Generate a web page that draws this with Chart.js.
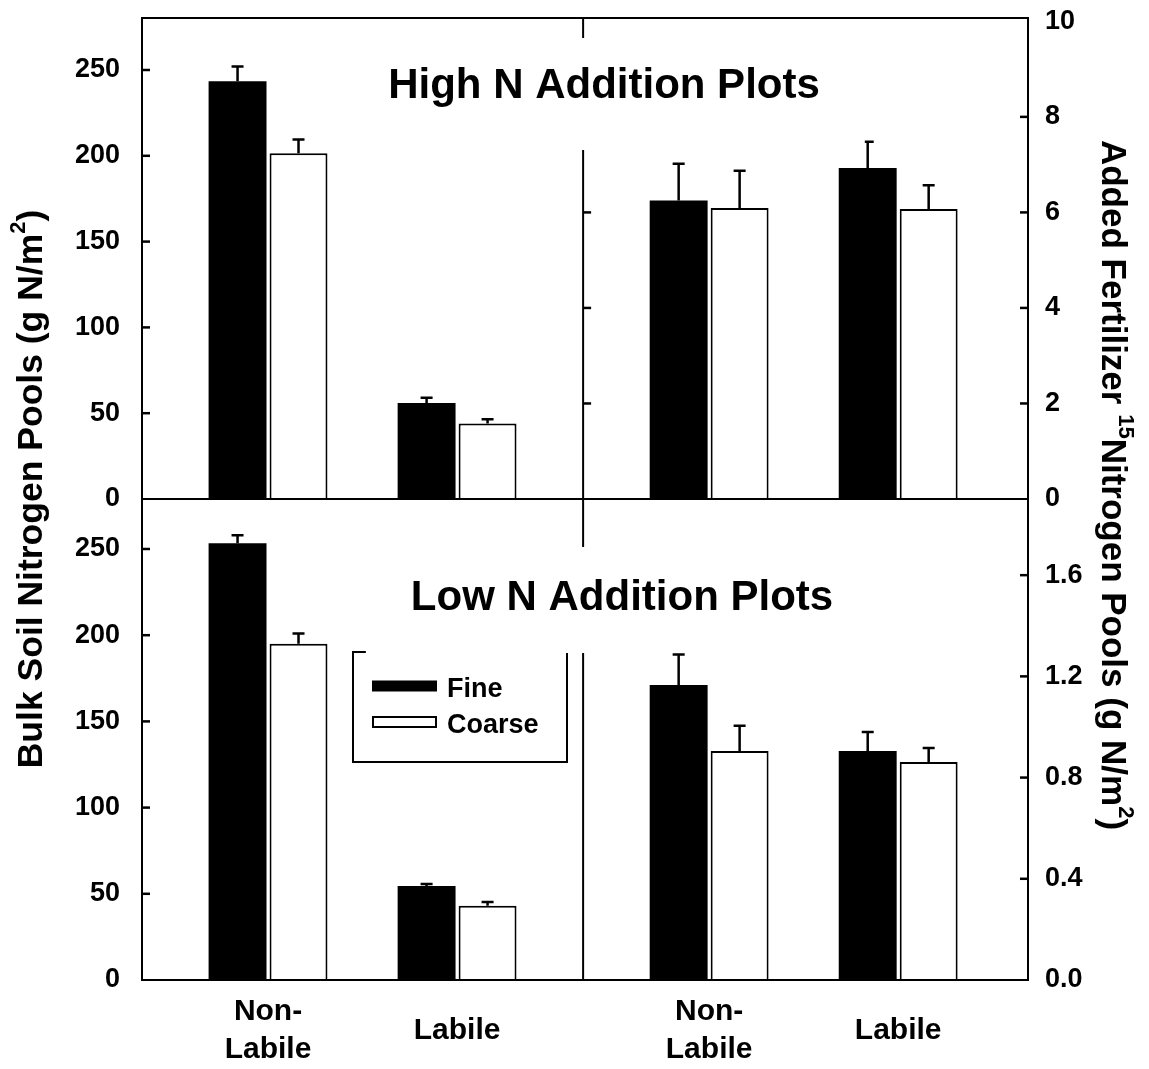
<!DOCTYPE html>
<html>
<head>
<meta charset="utf-8">
<script src="https://cdn.jsdelivr.net/npm/chart.js@4.4.1/dist/chart.umd.min.js"></script>
<style>
  html, body { margin: 0; padding: 0; background: #fff; }
  #wrap { width: 1149px; height: 1069px; }
</style>
</head>
<body>
<div id="wrap"><canvas id="c" width="1149" height="1069"></canvas></div>
<script>
// ---- data ----
const categories = ['Non-Labile', 'Labile'];

// High N addition plots: bulk soil N (g N/m2) and added fertilizer 15N (g N/m2)
const highBulkFine = [243.5, 56];
const highBulkFineErr = [8.5, 3];
const highBulkCoarse = [201.5, 44];
const highBulkCoarseErr = [8, 2.5];
const high15NFine = [6.25, 6.93];
const high15NFineErr = [0.77, 0.55];
const high15NCoarse = [6.09, 6.07];
const high15NCoarseErr = [0.78, 0.5];

// Low N addition plots
const lowBulkFine = [253.3, 54.5];
const lowBulkFineErr = [4.7, 1.2];
const lowBulkCoarse = [195, 43];
const lowBulkCoarseErr = [6, 2.3];
const low15NFine = [1.166, 0.905];
const low15NFineErr = [0.12, 0.075];
const low15NCoarse = [0.905, 0.862];
const low15NCoarseErr = [0.10, 0.055];

// tick labels
const bulkTicks = [0, 50, 100, 150, 200, 250];
const high15NTicks = [0, 2, 4, 6, 8, 10];
const low15NTicks = [0, 0.4, 0.8, 1.2, 1.6];

// ---- layout of the shared x axis: two halves, each with 7 slots ----
const SLOTS_PER_HALF = 7;
const CAT_SLOTS = [2, 5];
const X_MAX = 14.06;
const xTickValues = [0, 1].flatMap(h => CAT_SLOTS.map(s => h * SLOTS_PER_HALF + s));

const FONT = '"Liberation Sans", Arial, Helvetica, sans-serif';
Chart.defaults.font.family = FONT;
Chart.defaults.color = '#000';

function series(label, values, errors, half, yAxisID, kind) {
  return {
    label: label,
    stack: kind,
    xAxisID: 'x',
    yAxisID: yAxisID,
    data: values.map((v, i) => ({ x: half * SLOTS_PER_HALF + CAT_SLOTS[i], y: v })),
    errors: errors,
    backgroundColor: kind === 'fine' ? '#000' : '#fff',
    borderColor: '#000',
    borderWidth: kind === 'fine' ? 0 : 2,
    categoryPercentage: 0.645,
    barPercentage: 0.95
  };
}

const datasets = [
  series('Fine', highBulkFine, highBulkFineErr, 0, 'yTL', 'fine'),
  series('Coarse', highBulkCoarse, highBulkCoarseErr, 0, 'yTL', 'coarse'),
  series('Fine', high15NFine, high15NFineErr, 1, 'yTR', 'fine'),
  series('Coarse', high15NCoarse, high15NCoarseErr, 1, 'yTR', 'coarse'),
  series('Fine', lowBulkFine, lowBulkFineErr, 0, 'yBL', 'fine'),
  series('Coarse', lowBulkCoarse, lowBulkCoarseErr, 0, 'yBL', 'coarse'),
  series('Fine', low15NFine, low15NFineErr, 1, 'yBR', 'fine'),
  series('Coarse', low15NCoarse, low15NCoarseErr, 1, 'yBR', 'coarse')
];

function yAxis(position, stack, weight, max, tickValues, fmt, width, pad) {
  return {
    type: 'linear',
    position: position,
    stack: stack,
    stackWeight: 1,
    weight: weight,
    stacked: false,
    min: 0,
    max: max,
    grid: { display: false, drawTicks: false, tickLength: 0 },
    border: { display: false },
    afterBuildTicks: s => { s.ticks = tickValues.map(v => ({ value: v })); },
    afterFit: s => { s.width = width; s.paddingTop = 0; s.paddingBottom = 0; },
    ticks: {
      padding: pad,
      font: { size: 27, weight: 'bold' },
      color: '#000',
      callback: v => fmt(v)
    }
  };
}

// rich text with superscripts, rotated about its centre
function drawRich(ctx, parts, cx, cy, angle, size) {
  const base = `bold ${size}px ${FONT}`;
  const sup = `bold ${Math.round(size * 0.62)}px ${FONT}`;
  ctx.save();
  ctx.translate(cx, cy);
  ctx.rotate(angle);
  ctx.fillStyle = '#000';
  ctx.textBaseline = 'middle';
  ctx.textAlign = 'left';
  let total = 0;
  parts.forEach(p => { ctx.font = p.sup ? sup : base; p.w = ctx.measureText(p.t).width; total += p.w; });
  let x = -total / 2;
  parts.forEach(p => {
    ctx.font = p.sup ? sup : base;
    ctx.fillText(p.t, x, p.sup ? -size * 0.36 : 0);
    x += p.w;
  });
  ctx.restore();
}

const panelTitles = [
  { text: 'High N Addition Plots', cx: 604, cy: 86, above: 48, below: 64 },
  { text: 'Low N Addition Plots', cx: 622, cy: 598, above: 51, below: 55 }
];
const TITLE_FONT = `bold 42px ${FONT}`;
const legendBox = { left: 353, top: 652, right: 567, bottom: 762 };

const decorations = {
  id: 'decorations',
  afterDatasetsDraw(chart) {
    const ctx = chart.ctx;
    const sc = chart.scales;
    // error bars (upper half only)
    ctx.save();
    ctx.strokeStyle = '#000';
    ctx.lineWidth = 2.5;
    chart.data.datasets.forEach((d, di) => {
      const meta = chart.getDatasetMeta(di);
      const ys = sc[d.yAxisID];
      meta.data.forEach((bar, i) => {
        const top = ys.getPixelForValue(d.data[i].y + d.errors[i]);
        ctx.beginPath();
        ctx.moveTo(bar.x, bar.y);
        ctx.lineTo(bar.x, top);
        ctx.moveTo(bar.x - 6, top);
        ctx.lineTo(bar.x + 6, top);
        ctx.stroke();
      });
    });
    ctx.restore();
  },
  afterDraw(chart) {
    const ctx = chart.ctx;
    const a = chart.chartArea;
    const sc = chart.scales;
    const mid = sc.yTL.bottom;
    const divX = sc.x.getPixelForValue(SLOTS_PER_HALF);

    ctx.save();
    ctx.strokeStyle = '#000';
    ctx.lineWidth = 2;
    // divider between the bulk soil and 15N halves
    ctx.beginPath();
    ctx.moveTo(divX, a.top);
    ctx.lineTo(divX, a.bottom);
    ctx.stroke();

    // inward tick marks
    ctx.lineWidth = 2.5;
    const tickLen = 8;
    const marks = (scale, x0, dir) => {
      scale.ticks.forEach(t => {
        const y = scale.getPixelForValue(t.value);
        if (y > scale.bottom - 4 || y < scale.top + 4) return;
        ctx.beginPath();
        ctx.moveTo(x0, y);
        ctx.lineTo(x0 + dir * tickLen, y);
        ctx.stroke();
      });
    };
    marks(sc.yTL, a.left, 1);
    marks(sc.yBL, a.left, 1);
    marks(sc.yTR, a.right, -1);
    marks(sc.yBR, a.right, -1);
    marks(sc.yTR, divX, 1);

    // legend outline
    const lg = legendBox;
    ctx.lineWidth = 2;
    ctx.strokeRect(lg.left, lg.top, lg.right - lg.left, lg.bottom - lg.top);

    // white boxes behind the panel titles
    ctx.font = TITLE_FONT;
    panelTitles.forEach(t => {
      const w = ctx.measureText(t.text).width;
      ctx.fillStyle = '#fff';
      ctx.fillRect(t.cx - w / 2 - 45, t.cy - t.above, w + 90, t.above + t.below);
    });

    // frame and panel separator
    ctx.lineWidth = 2;
    ctx.strokeRect(a.left, a.top, a.right - a.left, a.bottom - a.top);
    ctx.beginPath();
    ctx.moveTo(a.left, mid);
    ctx.lineTo(a.right, mid);
    ctx.stroke();

    // panel titles
    ctx.fillStyle = '#000';
    ctx.textBaseline = 'middle';
    ctx.textAlign = 'center';
    panelTitles.forEach(t => ctx.fillText(t.text, t.cx, t.cy));

    // legend entries
    const items = [datasets[0], datasets[1]];
    ctx.font = `bold 27px ${FONT}`;
    ctx.textAlign = 'left';
    items.forEach((d, i) => {
      const cy = 686 + i * 36;
      ctx.fillStyle = d.backgroundColor;
      ctx.fillRect(372, cy - 5.5, 65, 11);
      if (d.borderWidth) { ctx.lineWidth = 2; ctx.strokeRect(373, cy - 5, 63, 10); }
      ctx.fillStyle = '#000';
      ctx.fillText(d.label, 447, cy + 4);
    });
    ctx.restore();

    // axis titles
    drawRich(ctx, [
      { t: 'Bulk Soil Nitrogen Pools (g N/m' }, { t: '2', sup: true }, { t: ')' }
    ], 32, 489, -Math.PI / 2, 35.5);
    drawRich(ctx, [
      { t: 'Added Fertilizer ' }, { t: '15', sup: true }, { t: 'Nitrogen Pools (g N/m' },
      { t: '2', sup: true }, { t: ')' }
    ], 1112, 485, Math.PI / 2, 35);
  }
};

new Chart(document.getElementById('c'), {
  type: 'bar',
  data: { datasets: datasets },
  options: {
    responsive: false,
    animation: false,
    layout: { padding: { top: 18, left: 0, right: 0, bottom: 0 } },
    plugins: { legend: { display: false }, tooltip: { enabled: false } },
    scales: {
      x: {
        type: 'linear',
        position: 'bottom',
        offset: false,
        min: 0,
        max: X_MAX,
        grid: { display: false, drawTicks: false, tickLength: 0, offset: false },
        border: { display: false },
        afterBuildTicks: s => { s.ticks = xTickValues.map(v => ({ value: v })); },
        afterFit: s => { s.height = 89; s.paddingLeft = 0; s.paddingRight = 0; },
        ticks: {
          padding: 32,
          autoSkip: false,
          maxRotation: 0,
          minRotation: 0,
          crossAlign: 'center',
          font: { size: 30, weight: 'bold', lineHeight: 1.25 },
          color: '#000',
          callback: (v, i) => {
            const name = categories[i % categories.length];
            const cut = name.indexOf('-') + 1;
            return cut > 0 ? [name.slice(0, cut), name.slice(cut)] : name;
          }
        }
      },
      yTL: yAxis('left', 'left', 1, 280.3, bulkTicks, v => String(v), 142, 22),
      yBL: yAxis('left', 'left', 0, 279, bulkTicks, v => String(v), 142, 22),
      yTR: yAxis('right', 'right', 0, 10.07, high15NTicks, v => String(v), 121, 17),
      yBR: yAxis('right', 'right', 1, 1.901, low15NTicks, v => v.toFixed(1), 121, 17)
    }
  },
  plugins: [decorations]
});
</script>
</body>
</html>
